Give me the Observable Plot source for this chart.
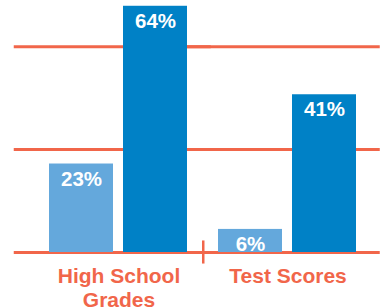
<!DOCTYPE html>
<html>
<head>
<meta charset="utf-8">
<script src="https://cdn.jsdelivr.net/npm/d3@7"></script>
<script src="https://cdn.jsdelivr.net/npm/@observablehq/plot@0.6"></script>
<style>
  html, body { margin: 0; padding: 0; background: #ffffff; }
  svg { display: block; }
</style>
</head>
<body>
<div id="chart"></div>
<script>
// Data
const categories = ["High School\nGrades", "Test Scores"];
const series = ["Series 1", "Series 2"];
const series1Values = [23, 6];
const series2Values = [64, 41];
const gridTicks = [0, 26.8, 53.5];

const data = categories.flatMap((c, i) => [
  {group: c, series: series[0], value: series1Values[i]},
  {group: c, series: series[1], value: series2Values[i]}
]);

const orange = "#F1664A";

const chart = Plot.plot({
  width: 380,
  height: 308,
  marginLeft: 13,
  marginRight: 0,
  marginTop: 0,
  marginBottom: 56,
  style: {fontFamily: "'Liberation Sans', Arial, sans-serif", background: "#ffffff"},
  fx: {domain: categories, padding: 0, insetLeft: 20.25, insetRight: 7.75, label: null},
  x: {domain: series, paddingInner: 0.133, paddingOuter: 0.197, axis: null},
  y: {domain: [0, 65.5], axis: null},
  color: {domain: series, range: ["#64A8DC", "#0081C6"]},
  marks: [
    Plot.ruleY(gridTicks, {stroke: orange, strokeWidth: 3, insetLeft: -20.25, insetRight: -7.75}),
    Plot.ruleX([categories[1]], {fx: d => d, x: null, y1: -3, y2: 3, stroke: orange, strokeWidth: 2.5, dx: -84.75}),
    Plot.barY(data, {fx: "group", x: "series", y: "value", fill: "series"}),
    Plot.text(data, {
      fx: "group", x: "series", y: "value",
      text: d => `${d.value}%`,
      fill: "white", fontSize: 20.5, fontWeight: "bold",
      lineAnchor: "top", dy: 7
    }),
    Plot.axisFx({
      anchor: "bottom",
      tickSize: 0, tickPadding: 13, fontSize: 21, fontWeight: "bold",
      fill: orange, lineHeight: 1.15, label: null
    })
  ]
});

document.getElementById("chart").appendChild(chart);
</script>
</body>
</html>
